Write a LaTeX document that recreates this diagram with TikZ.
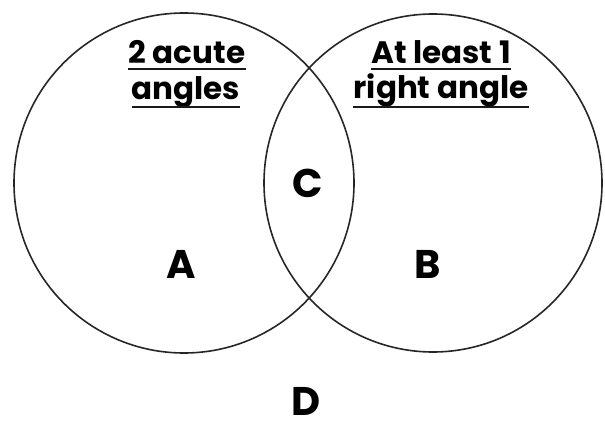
\documentclass[tikz,border=0pt]{standalone}
\usepackage{fontspec}
\setmainfont{Poppins}
\begin{document}
\begin{tikzpicture}[x=1pt,y=-1pt,
  setcircle/.style={draw=black!85,line width=1.6pt},
  heading/.style={font=\fontsize{31}{36}\selectfont\bfseries,anchor=base,inner sep=0pt},
  uline/.style={draw=black!90,line width=2pt},
  region/.style={font=\fontsize{40}{46}\selectfont\bfseries,anchor=base,inner sep=0pt}]
\useasboundingbox (0,0) rectangle (605,422);
\node[setcircle,circle,minimum size=340pt,inner sep=0pt] (L) at (184,183) {};
\node[setcircle,circle,minimum size=338pt,inner sep=0pt] (R) at (433,183) {};
\node[heading] (h1a) at (187,64) {2 acute};
\node[heading] (h1b) at (186,100) {angles};
\node[heading] (h2a) at (441,64) {At least 1};
\node[heading] (h2b) at (441,99) {right angle};
\draw[uline] ([yshift=-5.5pt]h1a.base west) -- ([yshift=-5.5pt]h1a.base east);
\draw[uline] ([yshift=-7.5pt]h1b.base west) -- ([yshift=-7.5pt]h1b.base east);
\draw[uline] ([yshift=-5.5pt]h2a.base west) -- ([yshift=-5.5pt]h2a.base east);
\draw[uline] ([yshift=-8pt]h2b.base west) -- ([yshift=-8pt]h2b.base east);
\node[region] (A) at (181.5,278) {A};
\node[region] (B) at (428,278) {B};
\node[region] (C) at (308,197.5) {C};
\node[region] (D) at (306,415) {D};
\end{tikzpicture}
\end{document}
